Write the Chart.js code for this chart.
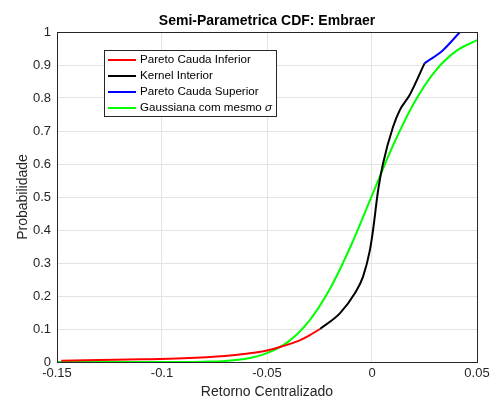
<!DOCTYPE html>
<html>
<head>
<meta charset="utf-8">
<script src="https://cdn.jsdelivr.net/npm/chart.js@4"></script>
<style>
  html, body { margin: 0; padding: 0; background: #fff; }
  #wrap { width: 495px; height: 401px; }
</style>
</head>
<body>
<div id="wrap"><canvas id="cdf" width="495" height="401"></canvas></div>
<script>
// valores
const xTicks = [-0.15, -0.1, -0.05, 0, 0.05];
const yTicks = [0, 0.1, 0.2, 0.3, 0.4, 0.5, 0.6, 0.7, 0.8, 0.9, 1];

const paretoInfX = [-0.148, -0.13, -0.11, -0.09, -0.07, -0.06, -0.05, -0.043, -0.035, -0.03, -0.0248];
const paretoInfY = [0.004, 0.006, 0.008, 0.011, 0.018, 0.025, 0.035, 0.047, 0.064, 0.08, 0.1];

const kernelX = [-0.0248, -0.0152, -0.0081, -0.0043, -0.001, 0.0005, 0.0029, 0.0052, 0.01, 0.0133, 0.018, 0.025];
const kernelY = [0.1, 0.148, 0.209, 0.258, 0.339, 0.4, 0.52, 0.6, 0.712, 0.764, 0.81, 0.905];

const paretoSupX = [0.025, 0.0338, 0.0419];
const paretoSupY = [0.905, 0.945, 1.0];

const gaussX = [-0.15, -0.12, -0.1, -0.09, -0.08, -0.07, -0.06, -0.05, -0.04, -0.03, -0.02, -0.01, 0, 0.01, 0.02, 0.03, 0.04, 0.05];
const gaussY = [0, 0, 0.0001, 0.0002, 0.001, 0.0034, 0.010, 0.027, 0.061, 0.124, 0.222, 0.353, 0.505, 0.656, 0.785, 0.881, 0.942, 0.975];

const titulo = 'Semi-Parametrica CDF: Embraer';

const pts = (xs, ys) => xs.map((x, i) => ({ x: x, y: ys[i] }));

const FONT = '"Liberation Sans", Arial, sans-serif';

const serie = (label, xs, ys, cor) => ({
    label: label,
    data: pts(xs, ys),
    borderColor: cor,
    backgroundColor: cor,
    borderWidth: 2,
    pointRadius: 0,
    showLine: true,
    cubicInterpolationMode: 'monotone'
});

// titulo centrado na area, caixa do grafico e legenda dentro da area
const boxPlugin = {
    id: 'boxLegend',
    afterDraw(chart) {
        const ctx = chart.ctx;
        const a = chart.chartArea;
        ctx.save();
        ctx.strokeStyle = '#262626';
        ctx.lineWidth = 1;
        ctx.strokeRect(a.left + 0.5, a.top + 0.5, a.right - a.left, a.bottom - a.top);

        ctx.fillStyle = '#000';
        ctx.font = 'bold 14px ' + FONT;
        ctx.textAlign = 'center';
        ctx.textBaseline = 'middle';
        ctx.fillText(titulo, (a.left + a.right) / 2, 21);

        // legenda
        const lx = 104, ly = 50, lw = 172, lh = 66;
        const f = '11.6px ' + FONT;
        ctx.fillStyle = '#fff';
        ctx.fillRect(lx, ly, lw, lh);
        ctx.strokeStyle = '#262626';
        ctx.strokeRect(lx + 0.5, ly + 0.5, lw, lh);
        ctx.font = f;
        ctx.textAlign = 'left';
        chart.data.datasets.forEach((ds, i) => {
            const y = ly + 10 + i * 16;
            ctx.strokeStyle = ds.borderColor;
            ctx.lineWidth = 2;
            ctx.beginPath();
            ctx.moveTo(lx + 4, y);
            ctx.lineTo(lx + 32, y);
            ctx.stroke();
            ctx.fillStyle = '#000';
            if (ds.label.endsWith('σ')) {
                const t = ds.label.slice(0, -1);
                ctx.fillText(t, lx + 36, y);
                const w = ctx.measureText(t).width;
                ctx.font = 'italic ' + f;
                ctx.fillText('σ', lx + 36 + w, y);
                ctx.font = f;
            } else {
                ctx.fillText(ds.label, lx + 36, y);
            }
        });
        ctx.restore();
    }
};

new Chart(document.getElementById('cdf').getContext('2d'), {
    type: 'scatter',
    data: {
        datasets: [
            serie('Pareto Cauda Inferior', paretoInfX, paretoInfY, '#ff0000'),
            serie('Kernel Interior', kernelX, kernelY, '#000000'),
            serie('Pareto Cauda Superior', paretoSupX, paretoSupY, '#0000ff'),
            serie('Gaussiana com mesmo σ', gaussX, gaussY, '#00ff00')
        ]
    },
    options: {
        responsive: false,
        animation: false,
        layout: { padding: { top: 32, right: 18, left: 15, bottom: 0 } },
        plugins: {
            legend: { display: false },
            tooltip: { enabled: false },
            title: { display: false }
        },
        scales: {
            x: {
                type: 'linear',
                min: -0.15,
                max: 0.05,
                afterBuildTicks: s => { s.ticks = xTicks.map(v => ({ value: v })); },
                afterFit: s => { s.height = 39; },
                ticks: {
                    color: '#262626',
                    font: { family: FONT, size: 13 },
                    padding: 4,
                    maxRotation: 0,
                    callback: v => String(Number(v.toFixed(2)))
                },
                grid: { color: '#e3e3e3', drawTicks: false },
                border: { color: '#262626' },
                title: {
                    display: true,
                    text: 'Retorno Centralizado',
                    color: '#262626',
                    font: { family: FONT, size: 14 },
                    padding: { top: 3, bottom: 0 }
                }
            },
            y: {
                type: 'linear',
                min: 0,
                max: 1,
                afterBuildTicks: s => { s.ticks = yTicks.map(v => ({ value: v })); },
                afterFit: s => { s.width = 42; },
                ticks: {
                    color: '#262626',
                    font: { family: FONT, size: 13 },
                    padding: 6,
                    callback: v => String(Number(v.toFixed(1)))
                },
                grid: { color: '#e3e3e3', drawTicks: false },
                border: { color: '#262626' },
                title: {
                    display: true,
                    text: 'Probabilidade',
                    color: '#262626',
                    font: { family: FONT, size: 14 },
                    padding: { top: 0, bottom: 2 }
                }
            }
        }
    },
    plugins: [boxPlugin]
});
</script>
</body>
</html>
